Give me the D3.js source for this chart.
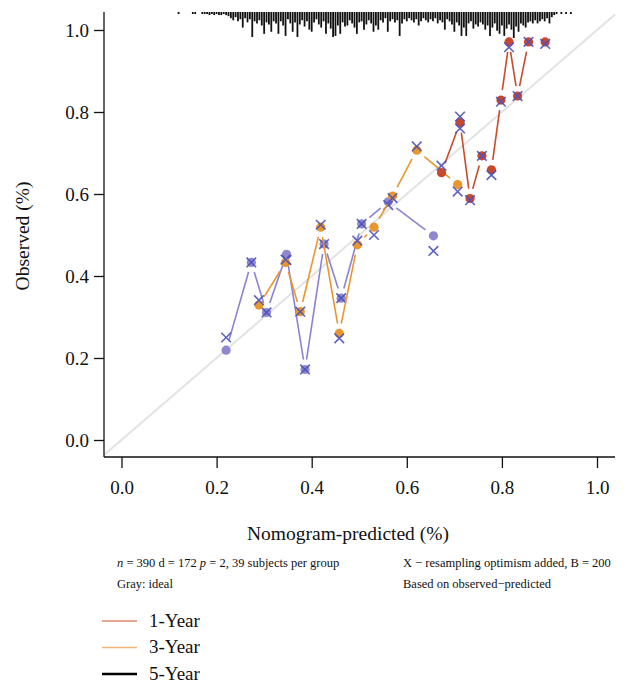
<!DOCTYPE html>
<html><head><meta charset="utf-8">
<script src="https://cdn.jsdelivr.net/npm/d3@7"></script>
<style>body{margin:0;background:#fff}svg{display:block}text{font-family:"Liberation Serif","Times New Roman",serif;fill:#111}</style>
</head><body><svg id="c" width="625" height="686"></svg>
<script>
// ---- data ----
const xTicks = [0.0, 0.2, 0.4, 0.6, 0.8, 1.0];
const yTicks = [0.0, 0.2, 0.4, 0.6, 0.8, 1.0];

const year1Pred = [0.673, 0.712, 0.733, 0.758, 0.778, 0.798, 0.815, 0.833, 0.856, 0.891];
const year1Obs  = [0.652, 0.774, 0.589, 0.693, 0.659, 0.829, 0.971, 0.839, 0.971, 0.971];
const year1Corr = [0.669, 0.789, 0.585, 0.693, 0.646, 0.825, 0.958, 0.839, 0.971, 0.966];

const year3Pred = [0.289, 0.345, 0.376, 0.419, 0.458, 0.496, 0.531, 0.570, 0.621, 0.707];
const year3Obs  = [0.329, 0.433, 0.313, 0.519, 0.260, 0.476, 0.519, 0.595, 0.707, 0.623];
const year3Corr = [0.341, 0.440, 0.313, 0.525, 0.248, 0.486, 0.500, 0.590, 0.716, 0.606];

const year5Pred = [0.220, 0.273, 0.305, 0.347, 0.386, 0.426, 0.462, 0.505, 0.561, 0.656];
const year5Obs  = [0.219, 0.433, 0.311, 0.453, 0.172, 0.478, 0.346, 0.527, 0.581, 0.498];
const year5Corr = [0.250, 0.433, 0.311, 0.439, 0.172, 0.478, 0.346, 0.527, 0.573, 0.461];

const extraCorrPred = [0.712];
const extraCorrY = [0.760];

// distribution of predicted values (rug spikes at top), start 0.12, step 0.005
const rugStart = 0.12, rugStep = 0.005;
const rugCounts = [1,0,0,0,0,0,1,1,0,0,1,1,1,2,1,2,1,2,2,1,2,3,5,7,4,8,6,14,5,9,6,23,8,10,7,12,20,9,11,18,8,10,
 20,8,12,22,6,10,18,9,23,11,7,13,8,16,18,9,6,11,14,8,20,10,15,23,22,12,20,9,13,12,7,10,14,20,9,8,16,11,7,10,18,12,
 16,7,9,5,18,8,6,9,7,22,10,6,8,5,7,9,6,12,8,5,7,9,6,8,5,10,7,9,16,6,8,11,18,9,12,22,14,22,10,8,15,11,
 13,9,11,16,12,22,14,10,17,20,12,22,15,11,16,24,13,18,10,12,14,9,8,10,7,10,8,6,8,5,10,4,2,1,0,1,0,1,0,1,0];

const legendLabels = ["1-Year", "3-Year", "5-Year"];
const legendColors = ["#E08A6C", "#F2B27A", "#000000"];

// ---- drawing ----
const svg = d3.select("#c");
const x = d3.scaleLinear().domain([0, 1]).range([121.5, 597]);
const y = d3.scaleLinear().domain([0, 1]).range([440, 30]);
const xMin = x.invert(104), xMax = x.invert(615), yMin = y.invert(457), yMax = y.invert(12);

// ideal diagonal
const dLo = Math.max(xMin, yMin), dHi = Math.min(xMax, yMax);
svg.append("line").attr("x1", x(dLo)).attr("y1", y(dLo)).attr("x2", x(dHi)).attr("y2", y(dHi))
  .attr("stroke", "#e2e2e2").attr("stroke-width", 2);

// rug
const rugH = d3.scaleLinear().domain([0, 24]).range([0, 25]);
svg.append("g").selectAll("line").data(rugCounts.map((c, i) => ({p: rugStart + i * rugStep, c})).filter(d => d.c > 0))
  .join("line")
  .attr("x1", d => x(d.p)).attr("x2", d => x(d.p))
  .attr("y1", y(yMax)).attr("y2", d => y(yMax) + Math.max(1.5, rugH(d.c) + 1))
  .attr("stroke", "#111").attr("stroke-width", 1.8);

// axes
const xAxis = d3.axisBottom(x).tickValues(xTicks).tickFormat(d3.format(".1f")).tickSize(11).tickSizeOuter(0);
const gx = svg.append("g").attr("transform", "translate(0,457)").call(xAxis);
gx.select(".domain").attr("d", `M104,0H615`).attr("stroke", "#111").attr("stroke-width", 1.3);
gx.selectAll(".tick line").attr("stroke", "#111").attr("stroke-width", 1.3);
gx.selectAll(".tick text").attr("font-size", 19).attr("dy", "1.2em").attr("font-family", "Liberation Serif");

const yAxis = d3.axisLeft(y).tickValues(yTicks).tickFormat(d3.format(".1f")).tickSize(10).tickSizeOuter(0);
const gy = svg.append("g").attr("transform", "translate(104,0)").call(yAxis);
gy.select(".domain").attr("d", `M0,12V457`).attr("stroke", "#111").attr("stroke-width", 1.3);
gy.selectAll(".tick line").attr("stroke", "#111").attr("stroke-width", 1.3);
gy.selectAll(".tick text").attr("font-size", 19).attr("x", -15).attr("dy", "0.34em").attr("font-family", "Liberation Serif");

// series
const series = [
  {pred: year5Pred, obs: year5Obs, corr: year5Corr, line: "#8C82D2", pt: "#8F87CF"},
  {pred: year3Pred, obs: year3Obs, corr: year3Corr, line: "#EA962C", pt: "#E9962D"},
  {pred: year1Pred, obs: year1Obs, corr: year1Corr, line: "#CB4A2A", pt: "#C9482B"}
];
const gap = 10;
const xColor = "#4C52B9";
function drawX(g, px, py) {
  const s = 4.8;
  g.append("path").attr("d", `M${px - s},${py - s}L${px + s},${py + s}M${px - s},${py + s}L${px + s},${py - s}`)
    .attr("stroke", xColor).attr("stroke-width", 1.6).attr("fill", "none").attr("opacity", 0.9);
}
series.forEach(s => {
  const g = svg.append("g");
  const pts = s.pred.map((p, i) => [x(p), y(s.obs[i])]);
  for (let i = 0; i < pts.length - 1; i++) {
    const [x1, y1] = pts[i], [x2, y2] = pts[i + 1];
    const L = Math.hypot(x2 - x1, y2 - y1);
    if (L <= 2 * gap) continue;
    const ux = (x2 - x1) / L, uy = (y2 - y1) / L;
    g.append("line").attr("x1", x1 + ux * gap).attr("y1", y1 + uy * gap)
      .attr("x2", x2 - ux * gap).attr("y2", y2 - uy * gap)
      .attr("stroke", s.line).attr("stroke-width", 1.6);
  }
  g.selectAll("circle").data(pts).join("circle")
    .attr("cx", d => d[0]).attr("cy", d => d[1]).attr("r", 4.6).attr("fill", s.pt);
  s.pred.forEach((p, i) => drawX(g, x(p), y(s.corr[i])));
});
extraCorrPred.forEach((p, i) => drawX(svg, x(p), y(extraCorrY[i])));

// axis titles
svg.append("text").attr("x", 348).attr("y", 540).attr("text-anchor", "middle").attr("font-size", 19.5)
  .text("Nomogram-predicted (%)");
svg.append("text").attr("transform", "translate(29,236) rotate(-90)").attr("text-anchor", "middle").attr("font-size", 19.5)
  .text("Observed (%)");

// footnotes
const fn = 12.5;
const t1 = svg.append("text").attr("x", 117).attr("y", 567).attr("font-size", fn);
t1.append("tspan").attr("font-style", "italic").text("n");
t1.append("tspan").text(" = 390 d = 172 ");
t1.append("tspan").attr("font-style", "italic").text("p");
t1.append("tspan").text(" = 2, 39 subjects per group");
svg.append("text").attr("x", 117).attr("y", 588).attr("font-size", fn).text("Gray: ideal");
svg.append("text").attr("x", 403).attr("y", 567).attr("font-size", fn).text("X \u2212 resampling optimism added, B = 200");
svg.append("text").attr("x", 403).attr("y", 588).attr("font-size", fn).text("Based on observed\u2212predicted");

// legend
const lg = svg.append("g");
legendLabels.forEach((lab, i) => {
  const ly = 621 + i * 26.5;
  lg.append("line").attr("x1", 102).attr("x2", 137).attr("y1", ly).attr("y2", ly)
    .attr("stroke", legendColors[i]).attr("stroke-width", i === 2 ? 2.4 : 1.6);
  lg.append("text").attr("x", 149).attr("y", ly + 5.5).attr("font-size", 19).text(lab);
});
</script></body></html>
